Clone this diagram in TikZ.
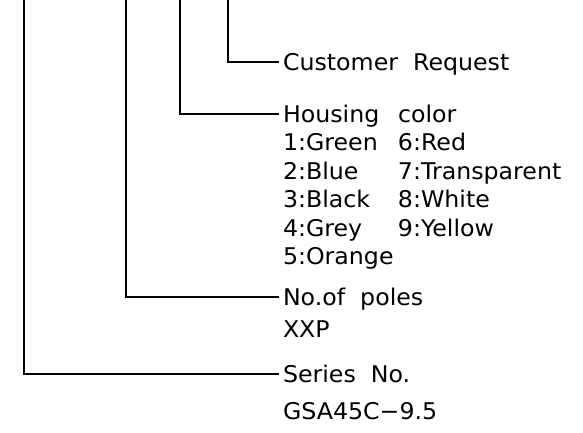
\documentclass[tikz,border=0pt]{standalone}
\usepackage{fontspec}
\newfontfamily\cadfont[FakeStretch=1.03]{DejaVu Sans}
\usetikzlibrary{positioning}
\newcommand{\colw}{115pt}

\begin{document}
\begin{tikzpicture}[
    x=1pt, y=-1pt,
    lbl/.style={anchor=west, inner sep=0pt, outer xsep=4pt, text height=17pt, text depth=0pt, font=\cadfont\fontsize{23pt}{28pt}\selectfont},
    lead/.style={draw=black, line width=2pt}
]
\useasboundingbox (0,0) rectangle (583,432);

\coordinate (top1) at (24,0);
\coordinate (top2) at (126,0);
\coordinate (top3) at (180,0);
\coordinate (top4) at (228,0);

\node[lbl] (request) at (279,62) {Customer~~Request};

\node[lbl] (housing) at (279,114) {\makebox[\colw][l]{Housing}color};
\node[lbl, below=11pt of housing.south west, anchor=north west] (green) {\makebox[\colw][l]{1:Green}6:Red};
\node[lbl, below=11pt of green.south west, anchor=north west] (blue) {\makebox[\colw][l]{2:Blue}7:Transparent};
\node[lbl, below=11pt of blue.south west, anchor=north west] (black) {\makebox[\colw][l]{3:Black}8:White};
\node[lbl, below=11pt of black.south west, anchor=north west] (grey) {\makebox[\colw][l]{4:Grey}9:Yellow};
\node[lbl, below=11pt of grey.south west, anchor=north west] (orange) {5:Orange};

\node[lbl] (poles) at (279,297) {No.of~~poles};
\node[lbl, below=15pt of poles.south west, anchor=north west] (xxp) {XXP};

\node[lbl] (series) at (279,374) {Series~~No.};
\node[lbl, below=20pt of series.south west, anchor=north west] (gsa) {GSA45C−9.5};

\draw[lead] (top4) |- (request.west);
\draw[lead] (top3) |- (housing.west);
\draw[lead] (top2) |- (poles.west);
\draw[lead] (top1) |- (series.west);
\end{tikzpicture}
\end{document}
